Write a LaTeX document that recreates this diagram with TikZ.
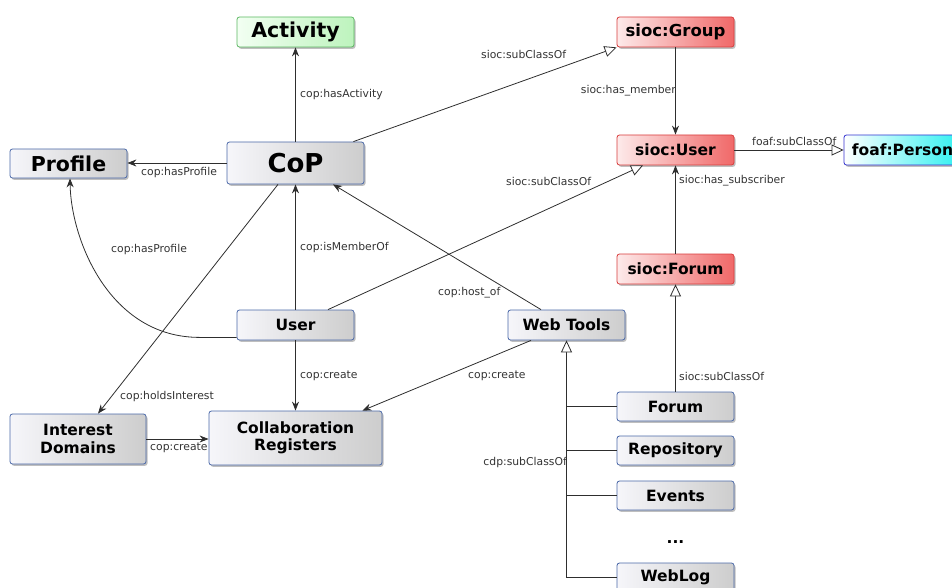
\documentclass[tikz,border=0pt]{standalone}
\usepackage{fontspec}
\setmainfont{DejaVu Sans}
\usetikzlibrary{arrows.meta,shadows,calc}
\definecolor{bborder}{HTML}{4A68A8}
\definecolor{bleft}{HTML}{F6F6FA}
\definecolor{bright}{HTML}{CDCDCD}
\definecolor{gborder}{HTML}{5CB862}
\definecolor{gleft}{HTML}{F2FFF2}
\definecolor{gright}{HTML}{BDF3BD}
\definecolor{rborder}{HTML}{D83C3C}
\definecolor{rleft}{HTML}{FDEAEA}
\definecolor{rright}{HTML}{F06868}
\definecolor{cborder}{HTML}{3434D0}
\definecolor{cleft}{HTML}{FFFFFF}
\definecolor{cright}{HTML}{2EF0F0}
\definecolor{linec}{HTML}{2E2E2E}
\definecolor{lblc}{HTML}{333333}
\begin{document}
\begin{tikzpicture}[x=1pt,y=-1pt,
  box/.style={draw=bborder, line width=0.8pt, rounded corners=2.5pt,
    left color=bleft, right color=bright, minimum width=117pt, minimum height=30pt,
    inner sep=0pt, align=center, font=\bfseries\fontsize{15.5}{17.5}\selectfont,
    drop shadow={shadow xshift=1.5pt, shadow yshift=-1.8pt, fill=black, opacity=0.25}},
  gbox/.style={box, draw=gborder, left color=gleft, right color=gright},
  rbox/.style={box, draw=rborder, left color=rleft, right color=rright},
  cbox/.style={box, draw=cborder, left color=cleft, right color=cright},
  lbl/.style={font=\fontsize{10.8}{12}\selectfont, text=lblc, inner sep=0pt, anchor=west},
  conn/.style={draw=linec, line width=0.8pt},
  arr/.style={conn, -{Stealth[length=9pt,width=7pt]}},
  sub/.style={conn, -{Triangle[open,length=12pt,width=11pt,fill=white]}}
]
\useasboundingbox (0,0) rectangle (952,588);
\clip (0,0) rectangle (952,588);

% nodes
\node[gbox, font=\bfseries\fontsize{20.5}{22}\selectfont] (act) at (295.5,32) {Activity};
\node[rbox, font=\bfseries\fontsize{16.5}{18}\selectfont] (grp) at (675.5,32) {sioc:Group};
\node[box, minimum height=29pt, font=\bfseries\fontsize{20.5}{22}\selectfont] (prof) at (68.5,163.5) {Profile};
\node[box, minimum width=137pt, minimum height=42pt, font=\bfseries\fontsize{26}{28}\selectfont] (cop) at (295.5,163) {CoP};
\node[rbox] (suser) at (675.5,150) {sioc:User};
\node[cbox] (foaf) at (902.5,150) {foaf:Person};
\node[rbox] (sforum) at (675.5,269) {sioc:Forum};
\node[box] (user) at (295.5,325) {User};
\node[box] (web) at (566.5,325) {Web Tools};
\node[box, minimum width=136pt, minimum height=50pt] (int) at (78,439) {Interest\\Domains};
\node[box, minimum width=173pt, minimum height=54pt] (col) at (295.5,438) {Collaboration\\Registers};
\node[box, minimum height=29pt] (forum) at (675.5,406.5) {Forum};
\node[box, minimum height=29pt] (repo) at (675.5,450.5) {Repository};
\node[box, minimum height=29pt] (events) at (675.5,495.5) {Events};
\node[font=\bfseries\fontsize{15.5}{17.5}\selectfont, inner sep=0pt] (dots) at (675.5,542) {...};
\node[box, minimum height=29pt] (weblog) at (675.5,577.5) {WebLog};

% connectors
\draw[arr] (cop.north) -- (act.south);
\draw[arr] (cop.west) -- (cop.west -| prof.east);
\draw[sub] ([xshift=-11pt]cop.north east) -- (grp.south west);
\draw[arr] (grp.south) -- (suser.north);
\draw[sub] (suser.east) -- (foaf.west);
\draw[sub] ([xshift=32.5pt]user.north) -- ([xshift=-32.5pt]suser.south);
\draw[arr] (sforum.north) -- (suser.south);
\draw[sub] (forum.north) -- (sforum.south);
\draw[arr] ([yshift=3pt]user.south west) -- ++(-37,0)
  .. controls ++(-90,0) and (71,240) .. ([xshift=1.5pt]prof.south);
\draw[arr] (user.north) -- (cop.south);
\draw[arr] ([xshift=-25.5pt]web.north) -- ([xshift=37.5pt]cop.south);
\draw[arr] ([xshift=-17.5pt]cop.south) -- ([xshift=20pt]int.north);
\draw[arr] (user.south) -- (user.south |- col.north);
\draw[arr] ([xshift=-35.5pt]web.south) -- ([xshift=-20pt]col.north east);
\draw[arr] (int.east) -- (int.east -| col.west);
\draw[sub] (weblog.west) -| (web.south);
\draw[conn] (forum.west) -- (forum.west -| web.south);
\draw[conn] (repo.west) -- (repo.west -| web.south);
\draw[conn] (events.west) -- (events.west -| web.south);

% labels
\node[lbl] (l1) at (300,95) {cop:hasActivity};
\node[lbl] (l2) at (141,173) {cop:hasProfile};
\node[lbl] (l3) at (481,54) {sioc:subClassOf};
\node[lbl, anchor=east] (l4) at (676,91) {sioc:has\_member};
\node[lbl] (l5) at (752,141) {foaf:subClassOf};
\node[lbl] (l6) at (506,181) {sioc:subClassOf};
\node[lbl] (l7) at (679,181) {sioc:has\_subscriber};
\node[lbl] (l8) at (111,250) {cop:hasProfile};
\node[lbl] (l9) at (300,248) {cop:isMemberOf};
\node[lbl] (l10) at (438,293) {cop:host\_of};
\node[lbl] (l11) at (120,397) {cop:holdsInterest};
\node[lbl] (l12) at (300,376) {cop:create};
\node[lbl] (l13) at (468,376) {cop:create};
\node[lbl] (l14) at (679,376) {sioc:subClassOf};
\node[lbl] (l15) at (150,448) {cop:create};
\node[lbl, anchor=east] (l16) at (567,463) {cdp:subClassOf};
\end{tikzpicture}
\end{document}
